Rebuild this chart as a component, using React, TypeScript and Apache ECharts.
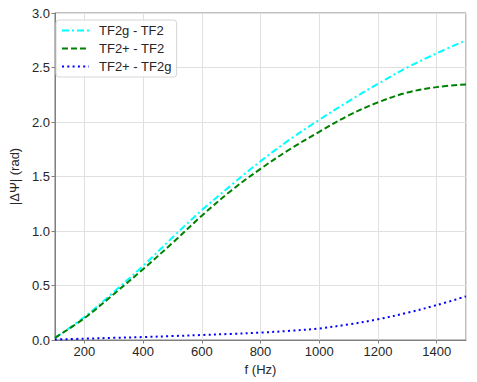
import React, { useEffect, useRef } from "react";
import * as echarts from "echarts";

const freqs = [100, 200, 300, 400, 500, 600, 700, 800, 900, 1000, 1100, 1200, 1300, 1400, 1500];
const tf2gMinusTf2 = [0.02, 0.21, 0.44, 0.68, 0.94, 1.19, 1.42, 1.64, 1.84, 2.02, 2.19, 2.35, 2.5, 2.63, 2.75];
const tf2pMinusTf2 = [0.02, 0.2, 0.42, 0.65, 0.89, 1.14, 1.37, 1.57, 1.75, 1.91, 2.06, 2.18, 2.27, 2.32, 2.345];
const tf2pMinusTf2g = [0.005, 0.012, 0.02, 0.027, 0.036, 0.046, 0.056, 0.068, 0.084, 0.106, 0.143, 0.19, 0.25, 0.32, 0.4];
const seriesNames = ["TF2g - TF2", "TF2+ - TF2", "TF2+ - TF2g"];

const FONT = "'Liberation Sans', Arial, sans-serif";
const TXT = "#262626";

export default function App() {
  const ref = useRef<HTMLDivElement>(null);
  useEffect(() => {
    if (!ref.current) return;
    const chart = echarts.init(ref.current, undefined, { renderer: "svg" });
    const pairs = (ys: number[]) => freqs.map((f, i) => [f, ys[i]]);
    const mk = (i: number, ys: number[], color: string, type: any) => ({
      name: seriesNames[i],
      type: "line",
      data: pairs(ys),
      symbol: "circle",
      showSymbol: false,
      smooth: 0.35,
      lineStyle: { color, width: 2, type },
      itemStyle: { color },
    });
    chart.setOption({
      animation: false,
      textStyle: { fontFamily: FONT, color: TXT },
      grid: {
        left: 49,
        right: 11,
        top: 13,
        bottom: 42,
        show: true,
        borderColor: "#808080",
        borderWidth: 1,
        backgroundColor: "transparent",
      },
      legend: {
        left: 56,
        top: 20,
        orient: "vertical",
        itemWidth: 27,
        itemHeight: 14,
        itemGap: 5,
        padding: [4, 5, 4, 5],
        borderColor: "#d6d6d6",
        borderWidth: 1,
        borderRadius: 3,
        backgroundColor: "rgba(255,255,255,0.85)",
        itemStyle: { opacity: 0 },
        textStyle: { fontFamily: FONT, fontSize: 13, color: TXT, padding: [0, 0, 0, 5] },
        data: seriesNames,
      },
      xAxis: {
        type: "value",
        min: 100,
        max: 1500,
        splitNumber: 7,
        name: "f (Hz)",
        nameLocation: "middle",
        nameGap: 14,
        nameTextStyle: { fontFamily: FONT, fontSize: 13, color: TXT },
        axisLine: { show: true, lineStyle: { color: "#808080", width: 1 } },
        axisTick: { show: true, length: 3.5, lineStyle: { color: "#808080" } },
        axisLabel: {
          showMinLabel: false,
          showMaxLabel: false,
          fontFamily: FONT,
          fontSize: 13,
          color: TXT,
          margin: 5,
          formatter: (v: number) => String(v),
        },
        splitLine: { show: true, lineStyle: { color: "#e0e0e0", width: 1 } },
      },
      yAxis: {
        type: "value",
        min: 0,
        max: 3,
        interval: 0.5,
        name: "|ΔΨ| (rad)",
        nameLocation: "middle",
        nameGap: 22,
        nameTextStyle: { fontFamily: FONT, fontSize: 13, color: TXT },
        axisLine: { show: true, lineStyle: { color: "#808080", width: 1 } },
        axisTick: { show: true, length: 3.5, lineStyle: { color: "#808080" } },
        axisLabel: {
          fontFamily: FONT,
          fontSize: 13,
          color: TXT,
          margin: 5,
          formatter: (v: number) => v.toFixed(1),
        },
        splitLine: { show: true, lineStyle: { color: "#e0e0e0", width: 1 } },
      },
      series: [
        mk(0, tf2gMinusTf2, "#00ffff", [7, 3, 2, 3]),
        mk(1, tf2pMinusTf2, "#008000", [6, 3]),
        mk(2, tf2pMinusTf2g, "#0000ff", [2, 3.3]),
      ],
    });
    return () => chart.dispose();
  }, []);
  return <div ref={ref} style={{ width: 477, height: 382, position: "absolute", left: 0, top: 0 }} />;
}
